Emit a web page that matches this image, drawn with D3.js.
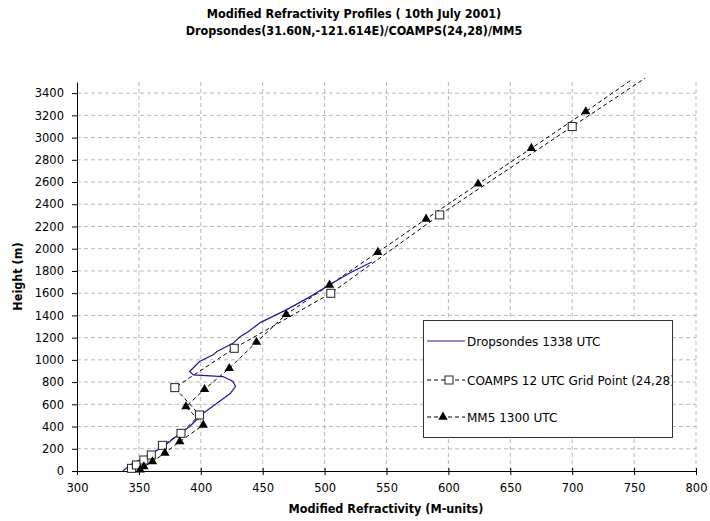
<!DOCTYPE html>
<html>
<head>
<meta charset="utf-8">
<script src="https://cdn.jsdelivr.net/npm/d3@7"></script>
<style>
  html, body { margin: 0; padding: 0; background: #fff; }
  svg { display: block; }
  .tick-lbl { font-family: 'DejaVu Sans', sans-serif; font-size: 11.5px; fill: #000; }
  .ttl { font-family: 'Liberation Sans Narrow', 'Arial Narrow', 'DejaVu Sans Condensed', sans-serif; font-weight: bold; font-size: 12.5px; fill: #000; }
  .leg { font-family: 'DejaVu Sans', sans-serif; font-size: 12px; fill: #000; }
</style>
</head>
<body>
<div id="chart"></div>
<script>
const xTicks = [300, 350, 400, 450, 500, 550, 600, 650, 700, 750, 800];
const yTicks = [0, 200, 400, 600, 800, 1000, 1200, 1400, 1600, 1800, 2000, 2200, 2400, 2600, 2800, 3000, 3200, 3400];

// Dropsondes 1338 UTC
const dropM = [337, 345, 356, 370, 380, 391, 402, 413, 424, 428, 426, 418, 394, 391, 399, 410, 413, 426, 429, 432, 438, 448, 469, 487, 504, 520, 538];
const dropH = [0, 70, 130, 220, 310, 400, 520, 610, 700, 760, 805, 850, 865, 895, 985, 1045, 1075, 1150, 1180, 1210, 1250, 1335, 1450, 1560, 1675, 1780, 1880];

// COAMPS 12 UTC grid point (24,28)
const coampsM = [344, 348, 354, 360, 369, 384, 399, 379, 427, 505, 593, 700, 759];
const coampsH = [24, 54, 99, 144, 231, 339, 504, 750, 1104, 1599, 2304, 3099, 3535];

// MM5 1300 UTC
const mm5M = [351, 354, 361, 371, 383, 402, 388, 403, 423, 445, 469, 504, 543, 582, 624, 667, 711, 748];
const mm5H = [10, 39, 84, 162, 264, 414, 579, 735, 924, 1160, 1410, 1674, 1968, 2268, 2583, 2904, 3234, 3520];

const W = 710, H = 521;
const svg = d3.select('#chart').append('svg').attr('width', W).attr('height', H);

const x = d3.scaleLinear().domain([300, 800]).range([77, 696]);
const y = d3.scaleLinear().domain([0, 3500]).range([471, 82]);

// grid
svg.append('g').selectAll('line').data(yTicks.filter(d => d > 0)).enter().append('line')
  .attr('x1', x(300)).attr('x2', x(800)).attr('y1', d => y(d)).attr('y2', d => y(d))
  .attr('stroke', '#b8b8b8').attr('stroke-dasharray', '4,3');
svg.append('g').selectAll('line').data(xTicks.filter(d => d > 300)).enter().append('line')
  .attr('x1', d => x(d)).attr('x2', d => x(d)).attr('y1', y(0)).attr('y2', y(3500))
  .attr('stroke', '#b8b8b8').attr('stroke-dasharray', '4,3');

// axes
const yAxis = svg.append('g').attr('transform', `translate(${x(300)},0)`)
  .call(d3.axisLeft(y).tickValues(yTicks).tickSize(5).tickSizeOuter(0).tickFormat(d => d));
const xAxis = svg.append('g').attr('transform', `translate(0,${y(0)})`)
  .call(d3.axisBottom(x).tickValues(xTicks).tickSize(4).tickSizeOuter(0).tickFormat(d => d));
[yAxis, xAxis].forEach(a => {
  a.select('.domain').attr('stroke', '#000');
  a.selectAll('.tick line').attr('stroke', '#000');
  a.selectAll('.tick text').attr('class', 'tick-lbl').attr('font-family', null).attr('font-size', null);
});
yAxis.selectAll('.tick text').attr('x', -13);
xAxis.selectAll('.tick text').attr('y', 13);
xAxis.selectAll('.tick line').attr('y1', -3);

// titles
svg.append('text').attr('class', 'ttl').attr('x', 354).attr('y', 18).attr('text-anchor', 'middle')
  .text('Modified Refractivity Profiles ( 10th July 2001)');
svg.append('text').attr('class', 'ttl').attr('x', 354).attr('y', 35).attr('text-anchor', 'middle')
  .text('Dropsondes(31.60N,-121.614E)/COAMPS(24,28)/MM5');
svg.append('text').attr('class', 'ttl').attr('x', 386).attr('y', 513).attr('text-anchor', 'middle')
  .text('Modified Refractivity (M-units)');
svg.append('text').attr('class', 'ttl').attr('transform', `translate(22,${y(1750)}) rotate(-90)`)
  .attr('text-anchor', 'middle').text('Height (m)');

const line = d3.line().x(d => x(d[0])).y(d => y(d[1]));
const drop = dropM.map((m, i) => [m, dropH[i]]);
const coamps = coampsM.map((m, i) => [m, coampsH[i]]);
const mm5 = mm5M.map((m, i) => [m, mm5H[i]]);

svg.append('path').datum(coamps).attr('fill', 'none').attr('stroke', '#000')
  .attr('stroke-width', 1).attr('stroke-dasharray', '4,3').attr('d', line);
svg.append('path').datum(mm5).attr('fill', 'none').attr('stroke', '#000')
  .attr('stroke-width', 1).attr('stroke-dasharray', '4,3').attr('d', line);
svg.append('path').datum(drop).attr('fill', 'none').attr('stroke', '#1a1a99')
  .attr('stroke-width', 1.2).attr('d', line);

const tri = d3.symbol().type(d3.symbolTriangle).size(38);

function square(g, cx, cy) {
  g.append('rect').attr('x', cx - 4).attr('y', cy - 4).attr('width', 8).attr('height', 8)
    .attr('fill', '#fff').attr('stroke', '#222').attr('stroke-width', 1);
}

coamps.filter(d => d[1] <= 3500).forEach(d => square(svg, x(d[0]), y(d[1])));
svg.selectAll('.mm5').data(mm5.filter(d => d[1] <= 3500)).enter().append('path').attr('class', 'mm5')
  .attr('transform', d => `translate(${x(d[0])},${y(d[1])})`).attr('d', tri).attr('fill', '#000');

// legend
const leg = svg.append('g');
leg.append('clipPath').attr('id', 'legclip').append('rect')
  .attr('x', 423).attr('y', 320).attr('width', 249).attr('height', 117);
leg.append('rect').attr('x', 423.5).attr('y', 320.5).attr('width', 249).attr('height', 117)
  .attr('fill', '#fff').attr('stroke', '#333').attr('stroke-width', 1);
const items = [
  { label: 'Dropsondes 1338 UTC', y: 341, kind: 'solid' },
  { label: 'COAMPS 12 UTC Grid Point (24,28)', y: 380, kind: 'square' },
  { label: 'MM5 1300 UTC', y: 417, kind: 'tri' }
];
items.forEach(it => {
  const l = leg.append('line').attr('x1', 427).attr('x2', 465).attr('y1', it.y).attr('y2', it.y)
    .attr('stroke', it.kind === 'solid' ? '#1a1a99' : '#000').attr('stroke-width', 1);
  if (it.kind !== 'solid') l.attr('stroke-dasharray', '4,3');
  if (it.kind === 'square') square(leg, 449, it.y);
  if (it.kind === 'tri') leg.append('path').attr('transform', `translate(443,${it.y})`).attr('d', tri).attr('fill', '#000');
  leg.append('text').attr('class', 'leg').attr('x', 467).attr('y', it.y + 4.5)
    .attr('clip-path', 'url(#legclip)').text(it.label);
});
</script>
</body>
</html>
